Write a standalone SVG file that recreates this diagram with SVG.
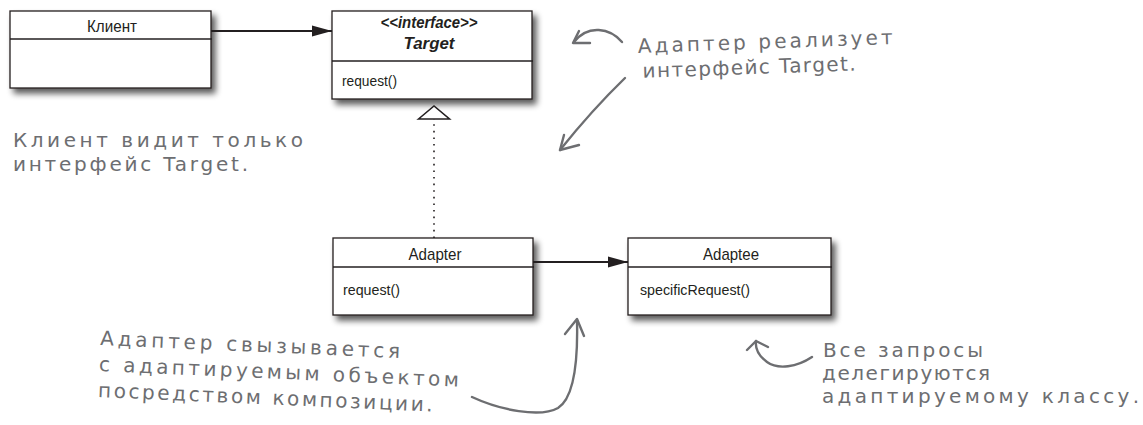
<svg xmlns="http://www.w3.org/2000/svg" width="1143" height="425" viewBox="0 0 1143 425">
  <style>
    .box { fill: #ffffff; stroke: #231f20; stroke-width: 1.3; }
    .div { stroke: #231f20; stroke-width: 1.3; }
    .name { font-family: "Liberation Sans", Arial, sans-serif; font-size: 17px; fill: #231f20; text-anchor: middle; }
    .iface { font-family: "Liberation Sans", Arial, sans-serif; font-size: 16px; font-weight: bold; font-style: italic; fill: #231f20; text-anchor: middle; }
    .op { font-family: "Liberation Sans", Arial, sans-serif; font-size: 15px; fill: #231f20; }
    .assoc { stroke: #231f20; stroke-width: 2; fill: none; }
    .realize { stroke: #231f20; stroke-width: 1.6; stroke-dasharray: 1.6 5; fill: none; }
    .note { font-family: "DejaVu Sans", "Liberation Sans", sans-serif; font-size: 20px; fill: #6d6e71; }
    .pen { stroke: #6d6e71; stroke-width: 2.4; fill: none; stroke-linecap: round; stroke-linejoin: round; }
  </style>
  <defs>
    <filter id="shadow" x="-10%" y="-10%" width="130%" height="150%">
      <feGaussianBlur in="SourceAlpha" stdDeviation="3"/>
      <feOffset dx="4" dy="5"/>
      <feComponentTransfer><feFuncA type="linear" slope="0.65"/></feComponentTransfer>
      <feMerge><feMergeNode/><feMergeNode in="SourceGraphic"/></feMerge>
    </filter>
    <marker id="arrow" markerUnits="userSpaceOnUse" markerWidth="20" markerHeight="12" refX="20" refY="6" orient="auto" overflow="visible">
      <path d="M0,0.5 L20,6 L0,11.5 z" fill="#231f20"/>
    </marker>
    <marker id="hollow" markerUnits="userSpaceOnUse" markerWidth="14" markerHeight="32" refX="0" refY="15.5" orient="auto" overflow="visible">
      <path d="M0,0 L13,15.5 L0,31 z" fill="#ffffff" stroke="#231f20" stroke-width="1.6"/>
    </marker>
  </defs>

  <!-- class boxes -->
  <g id="client">
    <rect class="box" x="10" y="11" width="201" height="77" filter="url(#shadow)"/>
    <line class="div" x1="10" y1="39" x2="212" y2="39"/>
    <text class="name" x="112" y="32" textLength="50" lengthAdjust="spacingAndGlyphs">Клиент</text>
  </g>

  <g id="target">
    <rect class="box" x="332" y="11" width="200" height="88" filter="url(#shadow)"/>
    <line class="div" x1="332" y1="61" x2="533" y2="61"/>
    <text class="iface" x="429" y="28" textLength="97" lengthAdjust="spacingAndGlyphs">&lt;&lt;interface&gt;&gt;</text>
    <text class="iface" x="429" y="49" font-size="17" textLength="51" lengthAdjust="spacingAndGlyphs">Target</text>
    <text class="op" x="342" y="86" textLength="55" lengthAdjust="spacingAndGlyphs">request()</text>
  </g>

  <g id="adapter">
    <rect class="box" x="333" y="238" width="200" height="77" filter="url(#shadow)"/>
    <line class="div" x1="333" y1="267" x2="534" y2="267"/>
    <text class="name" x="435" y="260" textLength="53" lengthAdjust="spacingAndGlyphs">Adapter</text>
    <text class="op" x="343" y="295" textLength="57" lengthAdjust="spacingAndGlyphs">request()</text>
  </g>

  <g id="adaptee">
    <rect class="box" x="628" y="238" width="203" height="77" filter="url(#shadow)"/>
    <line class="div" x1="628" y1="267" x2="832" y2="267"/>
    <text class="name" x="731" y="260" textLength="56" lengthAdjust="spacingAndGlyphs">Adaptee</text>
    <text class="op" x="640" y="295" textLength="110" lengthAdjust="spacingAndGlyphs">specificRequest()</text>
  </g>

  <!-- UML relations -->
  <g id="connectors">
    <line class="assoc" x1="211" y1="31" x2="332" y2="31" marker-end="url(#arrow)"/>
    <line class="assoc" x1="533" y1="262" x2="628" y2="262" marker-end="url(#arrow)"/>
    <path class="realize" d="M434,238 L434,119" marker-end="url(#hollow)"/>
  </g>

  <!-- handwritten notes -->
  <g id="note-client">
    <text class="note" x="13" y="147" textLength="290">Клиент видит только</text>
    <text class="note" x="13" y="171" textLength="235">интерфейс Target.</text>
  </g>

  <g id="note-target" transform="rotate(-2 638 53)">
    <text class="note" x="638" y="53" textLength="255">Адаптер реализует</text>
    <text class="note" x="642" y="78" textLength="213">интерфейс Target.</text>
  </g>

  <g id="note-composition" transform="rotate(2.5 100 345)">
    <text class="note" x="100" y="345" font-size="21" textLength="300">Адаптер свызывается</text>
    <text class="note" x="100" y="371" font-size="21" textLength="360">с адаптируемым объектом</text>
    <text class="note" x="100" y="397" font-size="21" textLength="335">посредством композиции.</text>
  </g>

  <g id="note-delegate">
    <text class="note" x="823" y="357" font-size="18" textLength="160">Все запросы</text>
    <text class="note" x="822" y="380" font-size="18" textLength="168">делегируются</text>
    <text class="note" x="822" y="403" font-size="18" textLength="317">адаптируемому классу.</text>
  </g>

  <!-- pen arrows -->
  <g id="pointers">
    <path class="pen" d="M622,42 C610,28 588,24 574,42"/>
    <path class="pen" d="M579,31 L573,43 L590,43"/>
    <path class="pen" d="M625,78 Q592,110 560,150"/>
    <path class="pen" d="M564,135 L560,150 L579,145"/>
    <path class="pen" d="M472,397 C500,410 540,418 558,408 C574,398 578,360 577,320"/>
    <path class="pen" d="M565,334 L577,319 L584,336"/>
    <path class="pen" d="M812,357 C797,367 778,370 767,362 C759,356 755,349 756,341"/>
    <path class="pen" d="M747,350 L756,341 L768,347"/>
  </g>
</svg>
